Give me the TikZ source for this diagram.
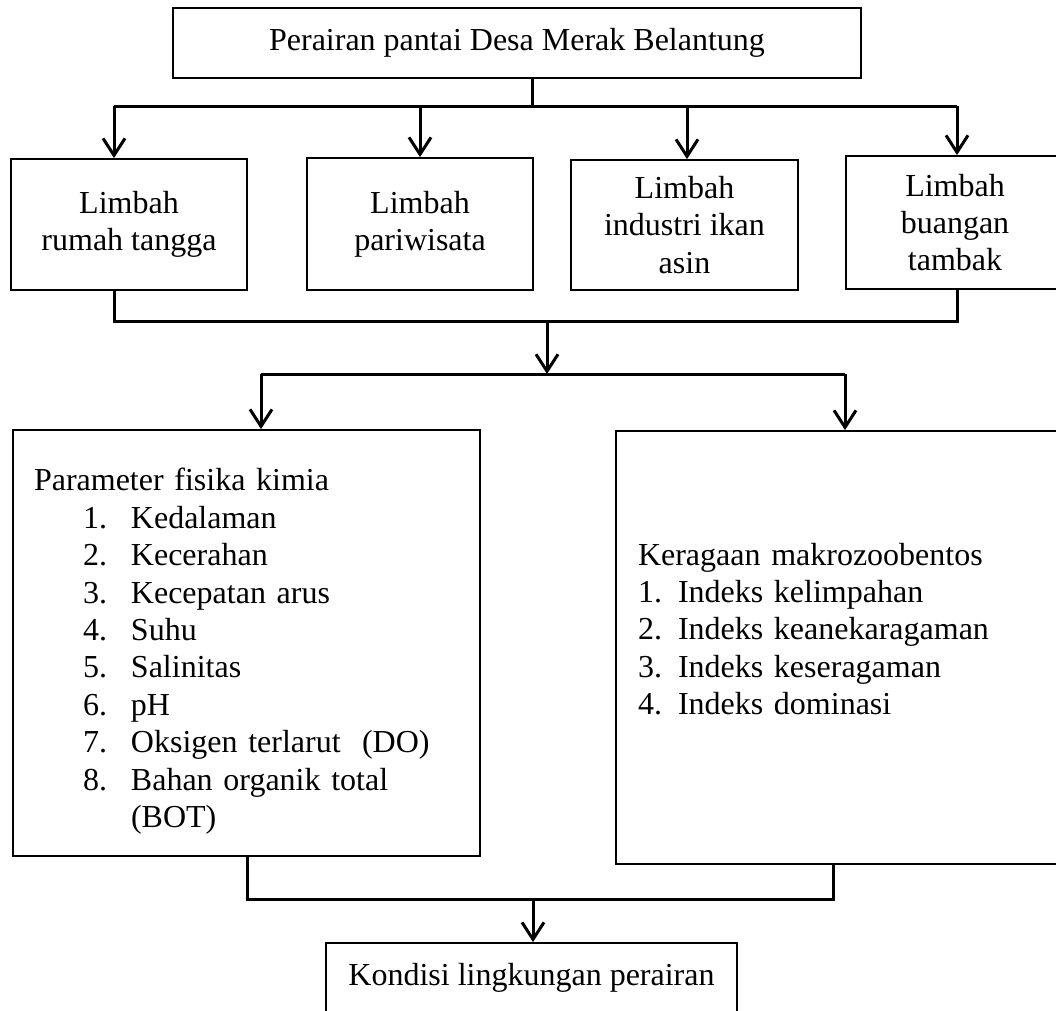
\documentclass[tikz,border=0pt]{standalone}
\usepackage{fontspec}
\setmainfont{Liberation Serif}
\usetikzlibrary{arrows.meta}

\newcommand{\itm}[2]{\hspace*{49pt}\makebox[48pt][l]{#1}#2}

\begin{document}
\begin{tikzpicture}[x=1pt,y=-1pt,
    box/.style={draw, line width=1.8pt, inner sep=0pt, align=center},
    link/.style={line width=3pt},
    arr/.style={link, -{Straight Barb[length=17pt,width=22pt]}}]
\tikzset{every node/.style={font=\fontsize{32}{37.4}\selectfont}}
\useasboundingbox (0,0) rectangle (1056,1010);

\node[box, minimum width=688pt, minimum height=70pt] (src) at (517,43)
    {Perairan pantai Desa Merak Belantung};

\node[box, minimum width=236pt, minimum height=131pt] (rt) at (129,224.5) {Limbah\\rumah tangga};
\node[box, minimum width=226pt, minimum height=132pt] (pw) at (420,224) {Limbah\\pariwisata};
\node[box, minimum width=227pt, minimum height=130pt] (ia) at (684.5,225) {Limbah\\industri ikan\\asin};
\node[box, minimum width=218pt, minimum height=133pt] (bt) at (955,222.5) {Limbah\\buangan\\tambak};

\node[box, align=left, text width=425pt, inner xsep=21pt, text height=39pt,
      minimum width=467pt, minimum height=426pt] (fk) at (246.5,643)
    {Parameter fisika kimia\\
     \itm{1.}{Kedalaman}\\
     \itm{2.}{Kecerahan}\\
     \itm{3.}{Kecepatan arus}\\
     \itm{4.}{Suhu}\\
     \itm{5.}{Salinitas}\\
     \itm{6.}{pH}\\
     \itm{7.}{Oksigen terlarut~ (DO)}\\
     \itm{8.}{Bahan organik total}\\
     \itm{}{(BOT)}};

\node[box, align=left, text width=415pt, inner xsep=22pt,
      minimum width=459pt, minimum height=433pt] (mz) at (845.5,647.5)
    {Keragaan makrozoobentos\\
     1. Indeks kelimpahan\\
     2. Indeks keanekaragaman\\
     3. Indeks keseragaman\\
     4. Indeks dominasi\\
     \mbox{}};

\node[box, minimum width=411pt, minimum height=69pt] (kl) at (531.5,977.5)
    {Kondisi lingkungan perairan};

% split under the title
\coordinate (j1) at (532,106);
\coordinate (t1) at (114,106);
\coordinate (t2) at (420,106);
\coordinate (t3) at (687,106);
\coordinate (t4) at (957,106);
\draw[link] (src.south -| j1) -- (j1);
\draw[link] (t1) -- (t4);
\foreach \n/\b in {1/rt,2/pw,3/ia,4/bt}
    \draw[arr] (t\n) -- (t\n |- \b.north);

% join of the sources
\coordinate (u1) at (114,321);
\coordinate (u2) at (957,321);
\coordinate (m1) at (547,321);
\coordinate (m2) at (547,374);
\draw[link] (rt.south -| u1) -- (u1) -- (u2) -- (bt.south -| u2);
\draw[arr] (m1) -- (m2);

% split to the two parameter boxes
\coordinate (s1) at (261,374);
\coordinate (s2) at (845,374);
\draw[link] (s1) -- (s2);
\draw[arr] (s1) -- (s1 |- fk.north);
\draw[arr] (s2) -- (s2 |- mz.north);

% join to the result
\coordinate (w1) at (247,899);
\coordinate (w2) at (833,899);
\coordinate (w0) at (533,899);
\draw[link] (fk.south -| w1) -- (w1) -- (w2) -- (mz.south -| w2);
\draw[arr] (w0) -- (kl.north -| w0);
\end{tikzpicture}
\end{document}
